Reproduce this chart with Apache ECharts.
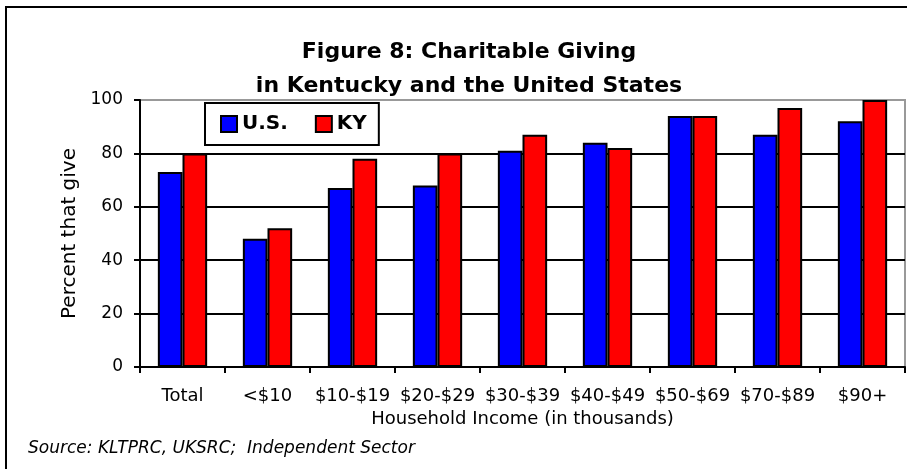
<!DOCTYPE html>
<html>
<head>
<meta charset="utf-8">
<script src="https://cdn.jsdelivr.net/npm/echarts@6/dist/echarts.min.js"></script>
<style>
  html, body { margin: 0; padding: 0; background: #fff; }
  #chart { width: 907px; height: 469px; }
</style>
</head>
<body>
<div id="chart"></div>
<script>
const categories = ['Total', '<$10', '$10-$19', '$20-$29', '$30-$39', '$40-$49', '$50-$69', '$70-$89', '$90+']
const usValues = [73, 48, 67, 68, 81, 84, 94, 87, 92]
const kyValues = [80, 52, 78, 80, 87, 82, 94, 97, 100]
const yTicks = [0, 20, 40, 60, 80, 100]

const FONT = 'DejaVu Sans'
const chart = echarts.init(document.getElementById('chart'), null, { renderer: 'canvas' })

chart.setOption({
  backgroundColor: '#fff',
  animation: false,
  title: {
    text: 'Figure 8: Charitable Giving\nin Kentucky and the United States',
    left: 464,
    top: 30,
    textAlign: 'center',
    textStyle: { fontFamily: FONT, fontWeight: 'bold', fontSize: 22, lineHeight: 34, color: '#000' },
  },
  legend: {
    left: 205, top: 103,
    orient: 'horizontal',
    icon: 'rect',
    itemWidth: 16, itemHeight: 16,
    itemGap: 27,
    padding: [11, 12, 11, 15],
    borderColor: '#000', borderWidth: 2,
    backgroundColor: '#fff',
    textStyle: { fontFamily: FONT, fontWeight: 'bold', fontSize: 20, color: '#000' },
  },
  grid: {
    left: 140, right: 2, top: 100, bottom: 102,
    show: true, borderColor: '#999', borderWidth: 2,
  },
  xAxis: {
    type: 'category',
    data: categories,
    name: 'Household Income (in thousands)',
    nameLocation: 'middle',
    nameGap: 42,
    nameTextStyle: { fontFamily: FONT, fontSize: 18, color: '#000' },
    axisLine: { lineStyle: { color: '#000', width: 2 } },
    axisTick: { show: true, length: 6, lineStyle: { color: '#000', width: 2 } },
    axisLabel: { fontFamily: FONT, fontSize: 18, color: '#000', margin: 20, interval: 0 },
  },
  yAxis: {
    type: 'value',
    min: yTicks[0], max: yTicks[yTicks.length - 1], interval: 20,
    name: 'Percent that give',
    nameLocation: 'middle',
    nameGap: 60,
    nameTextStyle: { fontFamily: FONT, fontSize: 20, color: '#000' },
    axisLine: { show: true, lineStyle: { color: '#000', width: 2 } },
    axisTick: { show: true, length: 6, lineStyle: { color: '#000', width: 2 } },
    axisLabel: { fontFamily: FONT, fontSize: 17, color: '#000', margin: 17 },
    splitLine: { lineStyle: { color: ['#000', '#000', '#000', '#000', '#000', '#999'], width: 2 } },
  },
  graphic: [
    {
      type: 'rect', z: -1, silent: true,
      shape: { x: 6, y: 7, width: 912, height: 470 },
      style: { fill: 'none', stroke: '#000', lineWidth: 2 },
    },
    {
      type: 'text', left: 28, top: 440,
      style: { text: 'Source: KLTPRC, UKSRC;  Independent Sector', font: 'italic 17px "DejaVu Sans"', fill: '#000' },
    },
  ],
  series: [
    {
      name: 'U.S.', type: 'bar', data: usValues,
      barGap: '0%', barCategoryGap: '42%',
      itemStyle: { color: '#0000ff', borderColor: '#000', borderWidth: 2 },
    },
    {
      name: 'KY', type: 'bar', data: kyValues,
      itemStyle: { color: '#ff0000', borderColor: '#000', borderWidth: 2 },
    },
  ],
})
</script>
</body>
</html>
